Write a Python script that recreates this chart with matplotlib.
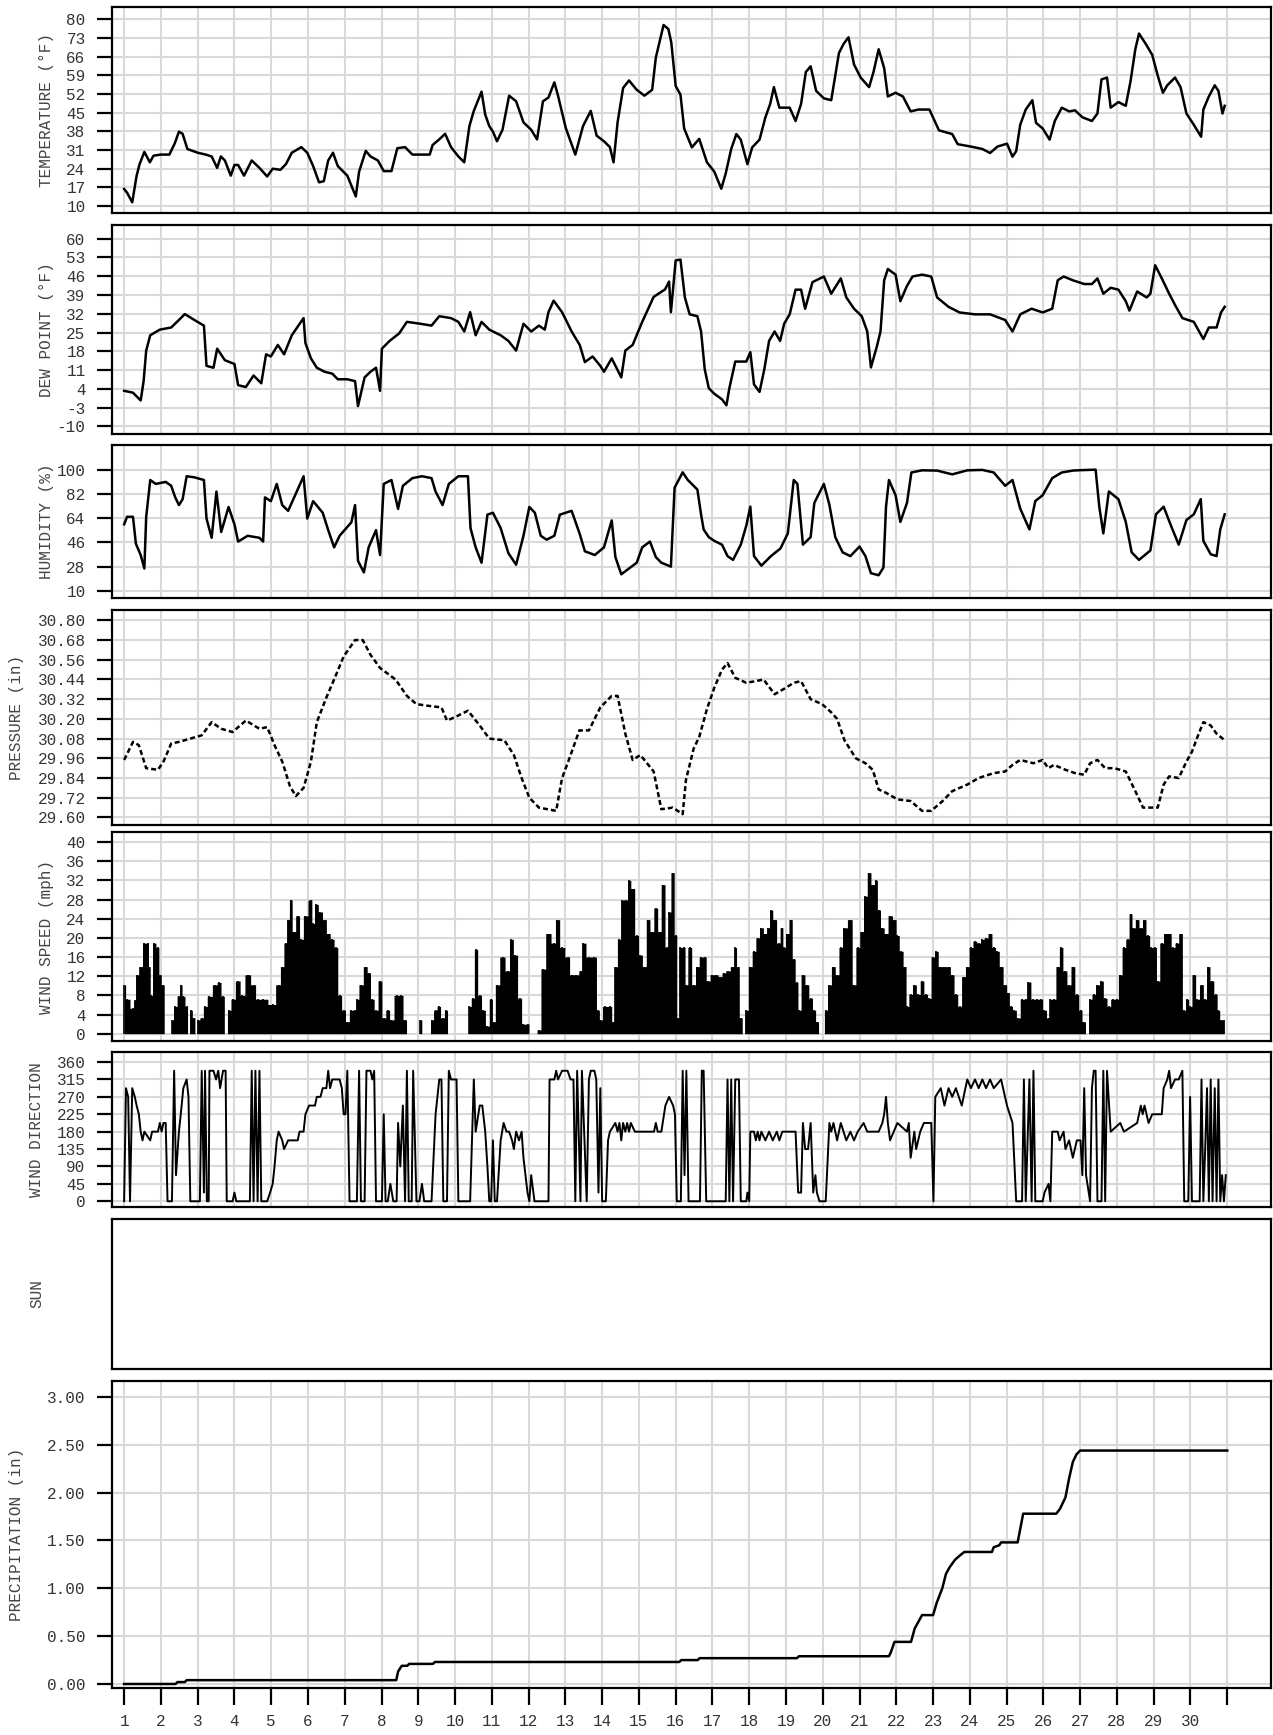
import matplotlib.pyplot as plt
import numpy as np

plt.rcParams['font.family'] = ['Liberation Mono', 'DejaVu Sans Mono']

# ---- data (day of month, value) ----
temp_day = [1.0, 1.08, 1.22, 1.34, 1.42, 1.55, 1.7, 1.8, 2.0, 2.23, 2.38, 2.49, 2.59, 2.72, 3.0, 3.22, 3.38, 3.53, 3.63, 3.74,
            3.9, 4.0, 4.1, 4.26, 4.47, 4.68, 4.89, 5.04, 5.25, 5.4, 5.56, 5.82, 5.98, 6.14, 6.3, 6.43, 6.55, 6.68, 6.81, 7.07,
            7.3, 7.39, 7.57, 7.7, 7.9, 8.06, 8.27, 8.43, 8.64, 8.84, 9.31, 9.39, 9.57, 9.73, 9.89, 10.09, 10.25, 10.39, 10.51, 10.72,
            10.82, 10.93, 11.03, 11.14, 11.29, 11.47, 11.66, 11.86, 12.07, 12.23, 12.39, 12.54, 12.7, 12.8, 13.01, 13.27, 13.48, 13.69, 13.85, 14.05,
            14.21, 14.31, 14.42, 14.57, 14.73, 14.94, 15.15, 15.36, 15.46, 15.67, 15.8, 15.88, 16.0, 16.13, 16.23, 16.44, 16.64, 16.85, 17.05, 17.24,
            17.36, 17.51, 17.65, 17.77, 17.95, 18.08, 18.28, 18.44, 18.57, 18.67, 18.82, 19.1, 19.26, 19.41, 19.54, 19.67, 19.82, 20.03, 20.23, 20.44,
            20.57, 20.7, 20.85, 21.03, 21.26, 21.38, 21.52, 21.67, 21.77, 21.98, 22.18, 22.39, 22.6, 22.9, 23.16, 23.52, 23.67, 24.03, 24.34, 24.55,
            24.75, 25.01, 25.16, 25.26, 25.37, 25.52, 25.7, 25.8, 25.98, 26.17, 26.31, 26.5, 26.7, 26.86, 27.06, 27.32, 27.47, 27.58, 27.73, 27.83,
            28.04, 28.24, 28.37, 28.5, 28.6, 28.78, 28.96, 29.11, 29.25, 29.37, 29.58, 29.73, 29.89, 30.09, 30.29, 30.35, 30.5, 30.66, 30.76, 30.87, 30.93]
temp_f = [16.4, 15, 11.4, 21.4, 25.7, 30.3, 26.4, 28.9, 29.3, 29.3, 33.6, 37.9, 37.1, 31.4, 30, 29.3, 28.6, 24.3, 28.6, 27.1,
          21.4, 25.4, 25.4, 21.4, 27.1, 24.3, 21.1, 24, 23.6, 25.7, 30, 32.1, 30, 25, 18.9, 19.3, 27.1, 30, 25, 21.4,
          13.6, 22.9, 30.7, 28.6, 27.1, 23.1, 23.1, 31.7, 32.1, 29.3, 29.3, 32.9, 35, 37.1, 32.1, 28.6, 26.4, 40, 45.7, 52.9,
          44.3, 40, 37.9, 34.3, 38.6, 51.4, 49.3, 41.4, 38.6, 35, 49.3, 50.7, 56.4, 51.4, 39.3, 29.3, 40, 45.7, 36.4, 34.3,
          32.1, 26.4, 41.4, 54.3, 57.1, 53.6, 51.4, 53.6, 65.7, 77.9, 76.4, 71.4, 55, 51.8, 39.1, 32, 35.2, 26.4, 22.9, 16.5,
          22.2, 31.4, 37, 34.9, 25.7, 32, 34.9, 43.3, 48.3, 54.6, 46.9, 46.9, 41.9, 48.3, 60.3, 62.4, 53.2, 50.4, 49.7, 67.4,
          70.9, 73.3, 63.1, 58.2, 54.6, 60.3, 68.8, 61.7, 51.1, 52.5, 51.1, 45.5, 46.2, 46.2, 38.4, 37, 33.2, 32.3, 31.4, 29.9,
          32.3, 33.4, 28.5, 30.6, 40.5, 46.2, 49.7, 41.2, 39.1, 34.9, 41.9, 46.9, 45.5, 45.9, 43.3, 41.9, 44.7, 57.5, 58.2, 46.9,
          49, 47.6, 56.8, 68.8, 74.7, 70.9, 66.7, 58.9, 52.5, 55.3, 58.2, 54.6, 44.7, 40.5, 36, 46.2, 51.1, 55.3, 53.2, 44.7, 47.6]

dew_day = [1.0, 1.24, 1.45, 1.53, 1.6, 1.71, 1.97, 2.28, 2.49, 2.65, 2.91, 3.17, 3.24, 3.43, 3.53, 3.74, 4.0, 4.1, 4.31, 4.52,
           4.73, 4.86, 4.99, 5.18, 5.35, 5.56, 5.88, 5.93, 6.08, 6.24, 6.45, 6.66, 6.81, 7.07, 7.28, 7.36, 7.54, 7.7, 7.85, 7.96,
           8.01, 8.22, 8.48, 8.69, 9.05, 9.36, 9.57, 9.89, 10.09, 10.25, 10.41, 10.56, 10.72, 10.93, 11.24, 11.45, 11.66, 11.86, 12.07, 12.28,
           12.44, 12.54, 12.68, 12.91, 13.17, 13.39, 13.53, 13.74, 13.95, 14.05, 14.26, 14.52, 14.63, 14.83, 15.09, 15.4, 15.71, 15.82, 15.87, 16.0,
           16.13, 16.25, 16.38, 16.59, 16.69, 16.79, 16.9, 17.05, 17.26, 17.38, 17.46, 17.62, 17.92, 18.03, 18.13, 18.28, 18.41, 18.54, 18.69, 18.84,
           18.95, 19.1, 19.26, 19.41, 19.52, 19.72, 20.03, 20.23, 20.49, 20.64, 20.85, 21.06, 21.21, 21.31, 21.47, 21.57, 21.67, 21.77, 21.98, 22.11,
           22.29, 22.44, 22.7, 22.95, 23.11, 23.42, 23.72, 24.14, 24.55, 24.96, 25.16, 25.37, 25.68, 25.98, 26.24, 26.39, 26.55, 26.8, 27.11, 27.32,
           27.47, 27.63, 27.83, 28.04, 28.24, 28.34, 28.55, 28.81, 28.91, 29.04, 29.22, 29.42, 29.58, 29.78, 30.09, 30.35, 30.5, 30.71, 30.83, 30.93]
dew_f = [3.3, 2.6, -0.3, 6.9, 18.3, 24, 26.1, 26.9, 29.7, 31.9, 29.7, 27.6, 12.6, 11.9, 19, 14.7, 13.3, 5.4, 4.7, 9,
         6.1, 16.9, 16.1, 20.4, 16.9, 24, 30.4, 21.1, 15.4, 11.9, 10.4, 9.7, 7.6, 7.6, 6.9, -2.4, 8.3, 10.4, 11.9, 3.3,
         19, 21.9, 24.7, 29, 28.3, 27.6, 31.1, 30.4, 29, 25.4, 32.6, 24, 29, 26.1, 24, 21.9, 18.3, 28.3, 25.4, 27.6,
         26.1, 32.6, 36.9, 32.6, 25.4, 20.4, 14, 16.1, 12.6, 10.4, 15.4, 8.3, 18.3, 20.4, 29, 38.3, 41.1, 44, 32.6, 51.9,
         52.2, 38.1, 31.8, 31.1, 25.4, 11.3, 4.3, 2.2, 0.1, -2.1, 4.3, 14.2, 14.2, 17.7, 5.7, 2.9, 11.3, 21.9, 25.4, 21.9,
         28.3, 31.8, 41, 41, 33.9, 43.8, 45.9, 39.5, 45.2, 38.1, 33.9, 31.1, 25.4, 12, 19.8, 25.4, 44.5, 48.7, 46.6, 36.7,
         42.4, 45.9, 46.6, 45.9, 38.1, 34.6, 32.5, 31.8, 31.8, 29.7, 25.4, 31.8, 33.9, 32.5, 33.9, 44.5, 45.9, 44.5, 43.1, 43.1,
         45.2, 39.5, 41.7, 41, 36.7, 33.2, 40.3, 38.1, 39.5, 50.1, 45.2, 39.5, 35.3, 30.4, 29, 22.6, 26.9, 26.9, 32.5, 34.6]

hum_day = [1.0, 1.08, 1.24, 1.32, 1.45, 1.55, 1.6, 1.71, 1.86, 2.13, 2.28, 2.39, 2.49, 2.59, 2.7, 2.91, 3.17, 3.24, 3.38, 3.51,
           3.64, 3.84, 4.0, 4.1, 4.36, 4.68, 4.78, 4.83, 4.99, 5.15, 5.3, 5.46, 5.67, 5.88, 5.98, 6.14, 6.4, 6.55, 6.71, 6.86,
           7.18, 7.28, 7.36, 7.52, 7.65, 7.85, 7.96, 8.06, 8.27, 8.45, 8.58, 8.84, 9.1, 9.36, 9.47, 9.66, 9.83, 10.09, 10.35, 10.42,
           10.56, 10.72, 10.88, 11.03, 11.24, 11.45, 11.66, 11.86, 12.02, 12.17, 12.33, 12.49, 12.7, 12.85, 13.17, 13.39, 13.53, 13.8, 14.05, 14.26,
           14.36, 14.52, 14.73, 14.94, 15.09, 15.3, 15.46, 15.61, 15.87, 15.97, 16.19, 16.33, 16.59, 16.69, 16.76, 16.9, 17.05, 17.26, 17.41, 17.56,
           17.77, 17.92, 18.03, 18.13, 18.33, 18.59, 18.85, 19.05, 19.21, 19.31, 19.46, 19.67, 19.77, 20.03, 20.18, 20.34, 20.54, 20.75, 21.0, 21.16,
           21.31, 21.52, 21.65, 21.72, 21.8, 21.98, 22.11, 22.29, 22.41, 22.7, 23.11, 23.52, 23.93, 24.34, 24.65, 24.96, 25.16, 25.37, 25.62, 25.78,
           25.98, 26.24, 26.5, 26.8, 27.01, 27.42, 27.52, 27.63, 27.78, 28.04, 28.24, 28.4, 28.6, 28.91, 29.06, 29.27, 29.47, 29.68, 29.89, 30.09,
           30.28, 30.35, 30.55, 30.71, 30.81, 30.93]
hum_pct = [59.4, 65, 65, 45, 36.6, 26.6, 65, 92.3, 89.4, 90.9, 88, 79.4, 73.7, 78, 95.1, 94.3, 92.3, 63.7, 49.4, 83.7,
           53.7, 72.3, 59.4, 46.6, 50.9, 49.4, 46.6, 79.4, 76.6, 89.4, 73.7, 69.4, 82.3, 95.1, 63.7, 76.6, 68, 55.1, 42.3, 50.9,
           60.9, 73.7, 32.3, 23.7, 42.3, 55.1, 36.6, 89.4, 92.3, 70.9, 88, 93.7, 95.1, 93.7, 83.7, 73.7, 89.4, 95.1, 95.1, 56.6,
           42.3, 30.9, 66.6, 68, 56.6, 38, 29.4, 50.9, 72.3, 68, 50.9, 48, 50.9, 66.6, 69.4, 52.3, 39.4, 36.6, 42.3, 62.3,
           35.1, 22.3, 26.6, 30.9, 42.3, 46.6, 35.1, 30.9, 28, 86.6, 98, 92.3, 85.2, 66.8, 55.6, 49.9, 47.1, 44.3, 35.8, 33,
           44.3, 58.4, 72.5, 35.8, 28.7, 35.8, 41.5, 52.7, 92.3, 89.4, 44.3, 49.9, 75.3, 89.4, 73.9, 49.9, 38.6, 35.8, 42.9, 35.8,
           23.1, 21.6, 27.3, 72.5, 92.3, 81, 61.2, 75.3, 97.9, 99.5, 99.3, 96.5, 99.5, 99.8, 97.9, 88, 92.3, 71.1, 55.6, 76.7,
           81, 93.7, 97.9, 99.3, 99.6, 100, 72.5, 52.7, 83.8, 78.1, 61.2, 38.6, 33, 40, 66.8, 72.5, 58.4, 44.3, 62.6, 66.8,
           78.1, 47.1, 37.2, 35.8, 55.6, 66.8]

pres_day = [1.0, 1.24, 1.4, 1.6, 1.92, 2.07, 2.28, 2.49, 2.8, 3.11, 3.38, 3.64, 3.95, 4.31, 4.68, 4.89, 5.09, 5.3, 5.51, 5.67,
            5.88, 6.08, 6.24, 6.5, 6.71, 6.97, 7.28, 7.49, 7.7, 7.96, 8.38, 8.69, 8.95, 9.26, 9.63, 9.78, 9.99, 10.35, 10.67, 10.93,
            11.34, 11.6, 11.81, 12.02, 12.28, 12.75, 12.91, 13.11, 13.38, 13.64, 13.95, 14.26, 14.42, 14.63, 14.83, 15.04, 15.4, 15.61, 15.92, 16.19,
            16.28, 16.49, 16.64, 16.85, 17.05, 17.26, 17.41, 17.62, 17.92, 18.18, 18.39, 18.69, 19.0, 19.21, 19.41, 19.67, 19.98, 20.23, 20.39, 20.59,
            20.9, 21.16, 21.36, 21.52, 21.72, 22.03, 22.39, 22.7, 22.95, 23.26, 23.52, 23.93, 24.24, 24.65, 24.96, 25.16, 25.37, 25.73, 25.98, 26.13,
            26.29, 26.6, 26.86, 27.11, 27.27, 27.47, 27.68, 27.93, 28.24, 28.5, 28.71, 28.96, 29.11, 29.27, 29.42, 29.68, 29.89, 30.04, 30.19, 30.35,
            30.55, 30.71, 30.93]
pres_in = [29.95, 30.06, 30.04, 29.90, 29.89, 29.94, 30.05, 30.06, 30.08, 30.10, 30.18, 30.14, 30.12, 30.19, 30.14, 30.15, 30.04, 29.94, 29.79, 29.73,
           29.78, 29.94, 30.18, 30.33, 30.44, 30.58, 30.68, 30.68, 30.59, 30.51, 30.44, 30.34, 30.29, 30.28, 30.27, 30.19, 30.21, 30.25, 30.16, 30.08,
           30.07, 29.98, 29.84, 29.72, 29.66, 29.64, 29.84, 29.96, 30.13, 30.13, 30.27, 30.34, 30.34, 30.11, 29.95, 29.98, 29.88, 29.65, 29.66, 29.62,
           29.83, 30.02, 30.09, 30.26, 30.39, 30.50, 30.54, 30.45, 30.42, 30.43, 30.44, 30.35, 30.39, 30.42, 30.43, 30.32, 30.29, 30.24, 30.20, 30.07,
           29.96, 29.93, 29.89, 29.77, 29.75, 29.71, 29.70, 29.64, 29.64, 29.70, 29.76, 29.80, 29.84, 29.87, 29.88, 29.92, 29.95, 29.93, 29.95, 29.90,
           29.92, 29.89, 29.87, 29.86, 29.93, 29.95, 29.90, 29.90, 29.88, 29.76, 29.66, 29.66, 29.66, 29.80, 29.85, 29.84, 29.94, 30.00, 30.09, 30.18,
           30.16, 30.11, 30.07]

wind_day = [1.0, 1.08, 1.24, 1.29, 1.34, 1.45, 1.55, 1.64, 1.68, 1.74, 1.81, 1.92, 1.97, 2.05, 2.13, 2.28, 2.3, 2.39, 2.49, 2.54,
            2.61, 2.7, 2.75, 2.82, 2.89, 2.96, 3.01, 3.11, 3.2, 3.32, 3.48, 3.58, 3.69, 3.76, 3.86, 3.95, 4.1, 4.21, 4.36, 4.52,
            4.63, 4.78, 5.04, 5.2, 5.3, 5.39, 5.46, 5.53, 5.61, 5.72, 5.82, 5.93, 6.07, 6.14, 6.22, 6.34, 6.45, 6.55, 6.66, 6.76,
            6.86, 6.97, 7.07, 7.18, 7.28, 7.33, 7.44, 7.57, 7.65, 7.75, 7.85, 7.96, 8.06, 8.17, 8.27, 8.41, 8.53, 8.64, 8.72, 9.03,
            9.05, 9.14, 9.31, 9.36, 9.47, 9.55, 9.66, 9.76, 9.83, 10.35, 10.39, 10.49, 10.56, 10.67, 10.77, 10.88, 10.98, 11.05, 11.14, 11.29,
            11.43, 11.53, 11.64, 11.76, 11.86, 11.97, 12.05, 12.18, 12.28, 12.39, 12.54, 12.68, 12.78, 12.91, 13.06, 13.17, 13.3, 13.43, 13.48, 13.64,
            13.79, 13.9, 13.95, 14.07, 14.21, 14.31, 14.36, 14.47, 14.55, 14.66, 14.73, 14.83, 14.94, 15.04, 15.15, 15.25, 15.35, 15.46, 15.56, 15.65,
            15.77, 15.82, 15.92, 16.0, 16.06, 16.13, 16.23, 16.28, 16.38, 16.49, 16.59, 16.69, 16.79, 16.87, 17.0, 17.1, 17.21, 17.31, 17.41, 17.56,
            17.62, 17.69, 17.77, 17.85, 17.92, 18.03, 18.13, 18.23, 18.33, 18.44, 18.52, 18.59, 18.69, 18.8, 18.88, 18.95, 19.03, 19.13, 19.21, 19.29,
            19.36, 19.46, 19.57, 19.67, 19.77, 19.84, 19.93, 20.01, 20.08, 20.18, 20.29, 20.39, 20.49, 20.59, 20.75, 20.85, 20.95, 21.06, 21.16, 21.26,
            21.36, 21.45, 21.52, 21.62, 21.72, 21.83, 21.96, 22.03, 22.13, 22.24, 22.29, 22.39, 22.49, 22.6, 22.7, 22.8, 22.9, 22.99, 23.09, 23.19,
            23.29, 23.42, 23.52, 23.62, 23.72, 23.83, 23.93, 24.03, 24.14, 24.24, 24.34, 24.44, 24.55, 24.65, 24.75, 24.85, 24.96, 25.04, 25.11, 25.21,
            25.32, 25.42, 25.52, 25.59, 25.73, 25.83, 25.93, 26.03, 26.14, 26.19, 26.29, 26.39, 26.48, 26.58, 26.7, 26.8, 26.91, 27.01, 27.09, 27.2,
            27.27, 27.37, 27.47, 27.58, 27.68, 27.78, 27.88, 27.99, 28.09, 28.19, 28.29, 28.37, 28.45, 28.55, 28.65, 28.74, 28.84, 28.94, 29.04, 29.11,
            29.22, 29.32, 29.42, 29.53, 29.63, 29.73, 29.83, 29.91, 29.99, 30.09, 30.19, 30.3, 30.4, 30.48, 30.58, 30.69, 30.76, 30.83, 30.91]
wind_mph = [10.2, 7.2, 5.3, 7, 12.3, 14, 18.9, 18.9, 14, 8, 18.9, 18, 12.3, 10.2, 0, 0, 2.9, 5.7, 7.8, 10.2,
            7.8, 5.7, 0, 4.9, 3.3, 0, 2.9, 3.3, 5.7, 7.8, 10.2, 10.7, 7.8, 0, 4.9, 7.2, 11, 8, 12.3, 10.2,
            7.2, 7.2, 6.1, 10.2, 14, 18.9, 23.8, 27.9, 21.3, 24.6, 19.7, 24.6, 27.9, 23, 27, 25.4, 23.8, 20.9, 19.7, 18,
            8, 4.9, 2.5, 4.9, 4.9, 7.2, 10.2, 14, 12.7, 7.2, 4.9, 11, 3.3, 4.9, 2.9, 8, 8, 2.9, 0, 0,
            2.9, 0, 0, 2.9, 4.9, 5.7, 3.3, 4.9, 0, 0, 5.7, 7.4, 17.6, 8, 4.9, 1.6, 7.2, 2.5, 10.2, 16,
            13.1, 19.7, 16.4, 7.4, 2, 2, 0, 0, 0.8, 13.5, 20.9, 18.9, 23.8, 18, 16, 12.3, 12.3, 13.1, 18.9, 16,
            16, 4.9, 2.9, 5.7, 5.7, 2.5, 14, 19.7, 27.9, 27.9, 32, 30.3, 20.5, 16.4, 14, 23.8, 21.3, 26.2, 21.3, 31.1,
            18, 25.4, 33.6, 20.5, 3.3, 18, 18, 10.2, 18, 10.2, 14, 16, 16, 11, 12.3, 12.3, 11.9, 12.7, 13.1, 14,
            18, 14, 3.3, 0, 4.9, 14, 17.2, 20, 22.1, 20.9, 22.1, 25.8, 23.8, 18.9, 22.1, 18, 20.9, 23.8, 15.6, 10.7,
            4.9, 12.3, 10.2, 7.4, 4.9, 2.5, 0, 0, 4.9, 10.2, 14, 12.3, 18, 22.1, 23.8, 10.2, 18, 21.3, 28.7, 33.6,
            31.1, 32, 25.8, 22.1, 20.9, 24.6, 23.8, 20.5, 17.2, 14, 5.7, 8.2, 10.2, 8.2, 11, 8.2, 7.4, 16, 17.2, 14,
            14, 14, 12.3, 8.2, 5.7, 11.9, 14, 18, 19.3, 18.9, 19.7, 20, 20.9, 18, 17.2, 14, 10.2, 8.6, 5.7, 4.9,
            3.3, 7.2, 7.2, 10.8, 7.2, 7.2, 7.2, 4.9, 3.3, 7.2, 7.2, 14, 18, 13.1, 10.2, 14, 8.2, 4.9, 2.5, 0,
            7.2, 8.2, 10.2, 11, 7.4, 5.7, 7.2, 7.2, 12.3, 18, 19.7, 25, 22.1, 23.8, 22.1, 23.8, 20.5, 18, 18, 11,
            18.9, 20.9, 20.9, 18, 18.9, 20.9, 4.9, 7.2, 5.7, 12.3, 7.2, 10.2, 7.2, 14, 11, 8.2, 4.9, 2.9, 2.9]

wdir_day = [1.0, 1.05, 1.11, 1.16, 1.22, 1.29, 1.34, 1.4, 1.45, 1.5, 1.55, 1.71, 1.76, 1.92, 1.97, 2.02, 2.07, 2.13, 2.18, 2.3,
            2.36, 2.41, 2.49, 2.54, 2.61, 2.7, 2.75, 2.8, 3.06, 3.11, 3.17, 3.2, 3.25, 3.3, 3.32, 3.43, 3.5, 3.56, 3.61, 3.69,
            3.76, 3.79, 3.95, 4.0, 4.05, 4.42, 4.47, 4.52, 4.57, 4.63, 4.68, 4.73, 4.89, 4.97, 5.04, 5.09, 5.15, 5.2, 5.3, 5.35,
            5.46, 5.72, 5.77, 5.88, 5.93, 6.03, 6.19, 6.24, 6.34, 6.4, 6.5, 6.55, 6.6, 6.66, 6.86, 6.92, 6.97, 7.02, 7.07, 7.13,
            7.33, 7.39, 7.44, 7.54, 7.59, 7.7, 7.75, 7.8, 7.85, 8.01, 8.06, 8.11, 8.17, 8.24, 8.32, 8.41, 8.45, 8.51, 8.58, 8.64,
            8.69, 8.74, 8.82, 8.86, 8.95, 9.03, 9.1, 9.16, 9.36, 9.47, 9.57, 9.63, 9.68, 9.78, 9.83, 9.89, 10.04, 10.09, 10.41, 10.51,
            10.56, 10.67, 10.74, 10.82, 10.88, 10.93, 10.98, 11.03, 11.08, 11.14, 11.24, 11.32, 11.4, 11.47, 11.55, 11.6, 11.66, 11.74, 11.81, 11.86,
            11.97, 12.02, 12.07, 12.16, 12.54, 12.57, 12.7, 12.75, 12.8, 12.91, 13.06, 13.14, 13.22, 13.27, 13.32, 13.41, 13.45, 13.58, 13.64, 13.69,
            13.79, 13.84, 13.9, 13.95, 14.0, 14.1, 14.16, 14.21, 14.36, 14.42, 14.47, 14.52, 14.57, 14.63, 14.68, 14.73, 14.78, 14.89, 15.41, 15.46,
            15.51, 15.61, 15.72, 15.82, 15.93, 15.98, 16.03, 16.14, 16.19, 16.24, 16.29, 16.35, 16.66, 16.71, 16.76, 16.83, 17.36, 17.41, 17.46, 17.51,
            17.56, 17.62, 17.72, 17.77, 17.92, 17.95, 18.0, 18.03, 18.13, 18.18, 18.23, 18.28, 18.33, 18.44, 18.54, 18.64, 18.75, 18.82, 18.9, 19.26,
            19.33, 19.41, 19.46, 19.52, 19.6, 19.67, 19.74, 19.8, 19.84, 19.91, 20.08, 20.18, 20.23, 20.29, 20.39, 20.49, 20.64, 20.75, 20.85, 20.95,
            21.11, 21.21, 21.52, 21.62, 21.67, 21.72, 21.77, 21.83, 21.93, 22.03, 22.29, 22.34, 22.39, 22.49, 22.54, 22.65, 22.75, 22.95, 23.01, 23.06,
            23.21, 23.31, 23.42, 23.52, 23.62, 23.78, 23.93, 24.03, 24.14, 24.24, 24.34, 24.44, 24.55, 24.65, 24.85, 25.01, 25.16, 25.26, 25.42, 25.47,
            25.52, 25.62, 25.68, 25.73, 25.78, 25.98, 26.03, 26.14, 26.19, 26.24, 26.39, 26.44, 26.55, 26.6, 26.7, 26.8, 26.91, 27.01, 27.06, 27.11,
            27.16, 27.27, 27.32, 27.37, 27.42, 27.47, 27.58, 27.63, 27.68, 27.73, 27.83, 28.09, 28.19, 28.55, 28.65, 28.7, 28.75, 28.86, 28.96, 29.22,
            29.27, 29.37, 29.42, 29.47, 29.58, 29.68, 29.78, 29.83, 29.94, 29.99, 30.04, 30.25, 30.3, 30.35, 30.4, 30.45, 30.5, 30.55, 30.6, 30.66,
            30.71, 30.76, 30.81, 30.86, 30.91, 30.96]
wdir_deg = [0, 292.5, 270, 0, 292.5, 270, 247.5, 225, 180, 157.5, 180, 157.5, 180, 180, 202.5, 180, 202.5, 202.5, 0, 0,
            337.5, 67.5, 180, 225, 292.5, 315, 270, 0, 0, 337.5, 22.5, 337.5, 0, 0, 337.5, 337.5, 315, 337.5, 292.5, 337.5,
            337.5, 0, 0, 22.5, 0, 0, 337.5, 0, 337.5, 0, 337.5, 0, 0, 22.5, 45, 90, 157.5, 180, 157.5, 135,
            157.5, 157.5, 180, 180, 225, 247.5, 247.5, 270, 270, 292.5, 292.5, 337.5, 292.5, 315, 315, 292.5, 225, 225, 337.5, 0,
            0, 337.5, 0, 0, 337.5, 337.5, 315, 337.5, 0, 0, 225, 0, 0, 45, 0, 0, 202.5, 90, 247.5, 0,
            337.5, 0, 0, 337.5, 0, 0, 45, 0, 0, 225, 315, 315, 0, 0, 337.5, 315, 315, 0, 0, 315,
            180, 247.5, 247.5, 180, 90, 0, 0, 157.5, 0, 0, 157.5, 202.5, 180, 180, 157.5, 135, 180, 157.5, 180, 112.5,
            22.5, 0, 67.5, 0, 0, 315, 315, 337.5, 315, 337.5, 337.5, 315, 315, 0, 337.5, 0, 337.5, 0, 315, 337.5,
            337.5, 315, 22.5, 292.5, 0, 0, 157.5, 180, 202.5, 180, 202.5, 157.5, 202.5, 180, 202.5, 180, 202.5, 180, 180, 202.5,
            180, 180, 247.5, 270, 247.5, 225, 0, 0, 337.5, 67.5, 337.5, 0, 0, 337.5, 337.5, 0, 0, 315, 0, 315,
            0, 315, 315, 0, 0, 22.5, 0, 180, 180, 157.5, 180, 157.5, 180, 157.5, 180, 157.5, 180, 157.5, 180, 180,
            22.5, 22.5, 202.5, 135, 135, 202.5, 22.5, 67.5, 22.5, 0, 0, 202.5, 180, 202.5, 157.5, 202.5, 157.5, 180, 157.5, 180,
            202.5, 180, 180, 202.5, 225, 270, 202.5, 157.5, 180, 202.5, 180, 202.5, 112.5, 180, 135, 180, 202.5, 202.5, 0, 270,
            292.5, 247.5, 292.5, 270, 292.5, 247.5, 315, 292.5, 315, 292.5, 315, 292.5, 315, 292.5, 315, 247.5, 202.5, 0, 0, 315,
            0, 315, 0, 337.5, 0, 0, 22.5, 45, 0, 180, 180, 157.5, 180, 135, 157.5, 112.5, 157.5, 157.5, 67.5, 292.5,
            67.5, 0, 292.5, 337.5, 337.5, 0, 0, 337.5, 0, 337.5, 180, 202.5, 180, 202.5, 247.5, 225, 247.5, 202.5, 225, 225,
            292.5, 315, 337.5, 292.5, 315, 315, 337.5, 0, 0, 270, 0, 0, 315, 0, 135, 292.5, 0, 315, 0, 292.5,
            0, 315, 0, 67.5, 0, 67.5]

rain_day = [1.0, 2.4, 2.45, 2.65, 2.7, 8.4, 8.45, 8.55, 8.7, 8.75, 9.4, 9.45, 16.1, 16.15, 16.6, 16.65, 19.3, 19.35, 21.8, 21.85,
            21.95, 22.4, 22.5, 22.6, 22.7, 23.0, 23.1, 23.25, 23.35, 23.45, 23.6, 23.75, 23.85, 24.6, 24.65, 24.8, 24.85, 25.3, 25.45, 26.35,
            26.45, 26.6, 26.7, 26.8, 26.9, 27.0, 31.0]
rain_in = [0, 0, 0.02, 0.02, 0.04, 0.04, 0.13, 0.19, 0.19, 0.21, 0.21, 0.23, 0.23, 0.25, 0.25, 0.27, 0.27, 0.29, 0.29, 0.33,
           0.44, 0.44, 0.58, 0.65, 0.72, 0.72, 0.85, 1.0, 1.15, 1.22, 1.30, 1.35, 1.38, 1.38, 1.43, 1.45, 1.48, 1.48, 1.78, 1.78,
           1.83, 1.95, 2.15, 2.32, 2.40, 2.44, 2.44]

day_ticks = list(range(1, 32))
day_labels = [str(d) for d in range(1, 31)] + ['']

# ---- layout (pixel rows of each panel) ----
W, H = 1273, 1735
LEFT, RIGHT = 112, 1271
rows = [(7, 213), (225, 434), (445, 598), (610, 825), (832, 1041), (1052, 1207), (1219, 1369), (1381, 1688)]

fig = plt.figure(figsize=(W / 100, H / 100), dpi=100)
axes = []
for top, bot in rows:
    ax = fig.add_axes([LEFT / W, 1 - bot / H, (RIGHT - LEFT) / W, (bot - top) / H])
    axes.append(ax)

grid_c = '#d9d9d9'
lab_c = '#444444'
tick_c = '#333333'

specs = [
    ('TEMPERATURE (°F)', 47, (7.39, 84.66), np.arange(10, 81, 7), '{:.0f}'),
    ('DEW POINT (°F)', 47, (-12.8, 65.1), np.arange(-10, 61, 7), '{:.0f}'),
    ('HUMIDITY (%)', 47, (4.7, 118.3), np.arange(10, 101, 18), '{:.0f}'),
    ('PRESSURE (in)', 17, (29.554, 30.863), np.linspace(29.60, 30.80, 11), '{:.2f}'),
    ('WIND SPEED (mph)', 47, (-1.52, 42.09), np.arange(0, 41, 4), '{:.0f}'),
    ('WIND DIRECTION', 37, (-14.8, 386), np.arange(0, 361, 45), '{:.0f}'),
    ('SUN', 37, None, None, None),
    ('PRECIPITATION (in)', 17, (-0.042, 3.167), np.arange(0, 3.01, 0.5), '{:.2f}'),
]

for i, (ax, (label, lx, ylim, yt, fmt)) in enumerate(zip(axes, specs)):
    top, bot = rows[i]
    ax.set_xlim(0.67, 32.19)
    for s in ax.spines.values():
        s.set_linewidth(1.6)
        s.set_color('black')
    fig.text(lx / W, 1 - (top + bot) / 2 / H, label, rotation=90, ha='center', va='center',
             fontsize=11.5, color=lab_c)
    if ylim is None:
        ax.set_xticks([])
        ax.set_yticks([])
        continue
    ax.set_ylim(*ylim)
    ax.set_yticks(yt)
    ax.set_yticklabels([fmt.format(v) for v in yt])
    ax.set_xticks(day_ticks)
    ax.grid(True, color=grid_c, linewidth=1.5)
    ax.set_axisbelow(True)
    ax.tick_params(axis='y', length=11, width=1.6, pad=8, labelsize=11.5, labelcolor=tick_c)
    if i == len(axes) - 1:
        ax.set_xticklabels(day_labels)
        ax.tick_params(axis='x', length=12, width=1.6, pad=7, labelsize=11.5, labelcolor=tick_c)
    else:
        ax.tick_params(axis='x', length=0, labelbottom=False)

lw = 1.8
axes[0].plot(temp_day, temp_f, color='black', lw=lw)
axes[1].plot(dew_day, dew_f, color='black', lw=lw)
axes[2].plot(hum_day, hum_pct, color='black', lw=lw)
axes[3].plot(pres_day, pres_in, color='black', lw=1.8, linestyle=(0, (2, 1.2)))
axes[4].fill_between(wind_day, wind_mph, step='mid', color='black', linewidth=0)
axes[4].vlines(wind_day, 0, wind_mph, color='black', lw=1.2)
axes[5].plot(wdir_day, wdir_deg, color='black', lw=1.4)
axes[7].plot(rain_day, rain_in, color='black', lw=1.8)

fig.savefig('out.png', dpi=100)
